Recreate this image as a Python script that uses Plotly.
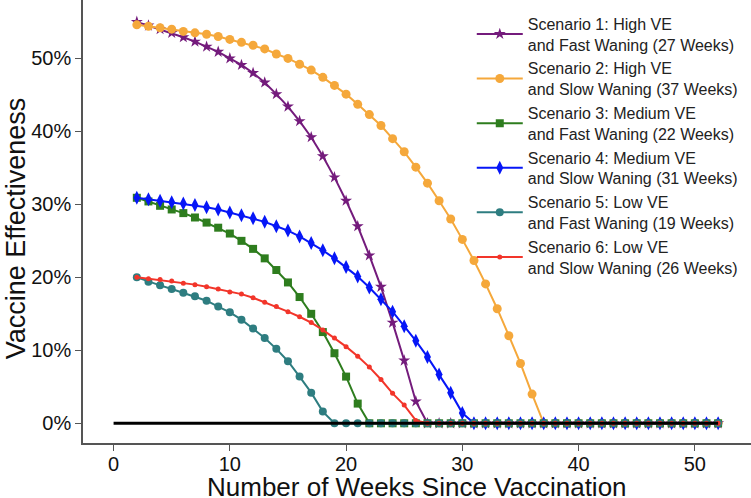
import plotly.graph_objects as go

weeks = list(range(2, 53))

s1 = [55.0, 54.5, 54.0, 53.5, 52.9, 52.3, 51.6, 50.9, 50.0, 49.1, 48.0, 46.7, 45.1, 43.4, 41.4,
      39.2, 36.6, 33.7, 30.5, 27.0, 23.0, 18.7, 13.8, 8.6, 3.0,
      0, 0, 0, 0, 0, 0, 0, 0, 0, 0, 0, 0, 0, 0, 0, 0, 0, 0, 0, 0, 0, 0, 0, 0, 0, 0]
s2 = [54.6, 54.4, 54.2, 54.0, 53.7, 53.5, 53.3, 53.0, 52.6, 52.2, 51.8, 51.3, 50.6, 50.0, 49.2,
      48.4, 47.4, 46.3, 45.1, 43.7, 42.3, 40.8, 39.0, 37.2, 35.1, 32.9, 30.5, 28.0, 25.2, 22.3,
      19.1, 15.7, 12.0, 8.2, 4.0,
      0, 0, 0, 0, 0, 0, 0, 0, 0, 0, 0, 0, 0, 0, 0, 0]
s3 = [30.9, 30.4, 29.8, 29.3, 28.8, 28.2, 27.5, 26.8, 26.0, 25.0, 23.9, 22.6, 21.0, 19.3, 17.3,
      15.0, 12.5, 9.6, 6.4, 2.7,
      0, 0, 0, 0, 0, 0, 0, 0, 0, 0, 0, 0, 0, 0, 0, 0, 0, 0, 0, 0, 0, 0, 0, 0, 0, 0, 0, 0, 0, 0, 0]
s4 = [30.9, 30.7, 30.5, 30.3, 30.1, 29.9, 29.6, 29.3, 28.9, 28.5, 28.1, 27.6, 27.0, 26.4, 25.6,
      24.7, 23.7, 22.6, 21.4, 20.1, 18.6, 17.0, 15.3, 13.3, 11.3, 9.1, 6.7, 4.2, 1.4,
      0, 0, 0, 0, 0, 0, 0, 0, 0, 0, 0, 0, 0, 0, 0, 0, 0, 0, 0, 0, 0, 0]
s5 = [20.0, 19.4, 18.9, 18.4, 17.9, 17.4, 16.8, 16.0, 15.2, 14.2, 13.0, 11.7, 10.2, 8.5, 6.4,
      4.2, 1.6,
      0, 0, 0, 0, 0, 0, 0, 0, 0, 0, 0, 0, 0, 0, 0, 0, 0, 0, 0, 0, 0, 0, 0, 0, 0, 0, 0, 0, 0, 0, 0, 0, 0, 0]
s6 = [20.0, 19.8, 19.7, 19.5, 19.2, 19.0, 18.7, 18.4, 18.0, 17.7, 17.2, 16.6, 16.0, 15.3, 14.6,
      13.8, 12.8, 11.7, 10.5, 9.2, 7.7, 6.0, 4.1, 2.5, 0.4,
      0, 0, 0, 0, 0, 0, 0, 0, 0, 0, 0, 0, 0, 0, 0, 0, 0, 0, 0, 0, 0, 0, 0, 0, 0, 0]

names = [
    "Scenario 1: High VE<br>and Fast Waning (27 Weeks)",
    "Scenario 2: High VE<br>and Slow Waning (37 Weeks)",
    "Scenario 3: Medium VE<br>and Fast Waning (22 Weeks)",
    "Scenario 4: Medium VE<br>and Slow Waning (31 Weeks)",
    "Scenario 5: Low VE<br>and Fast Waning (19 Weeks)",
    "Scenario 6: Low VE<br>and Slow Waning (26 Weeks)",
]
series = [s1, s2, s3, s4, s5, s6]
colors = ["#741b7c", "#f5a83b", "#2e7d1e", "#0616f7", "#2e7d80", "#f2352a"]
symbols = ["star", "circle", "square", "diamond-tall", "circle", "circle"]
sizes = [9, 9, 8, 10, 8, 5]

ref_x = [0, 52]
ref_y = [0, 0]

y_ticks = [0, 10, 20, 30, 40, 50]
y_tick_text = ["0%", "10%", "20%", "30%", "40%", "50%"]
x_ticks = [0, 10, 20, 30, 40, 50]

fig = go.Figure()
for nm, ys, c, sym, sz in zip(names, series, colors, symbols, sizes):
    fig.add_trace(go.Scatter(
        x=weeks, y=ys, name=nm, mode="lines+markers",
        line=dict(color=c, width=2),
        marker=dict(symbol=sym, size=sz, color=c, line=dict(width=0)),
    ))

fig.add_trace(go.Scatter(x=ref_x, y=ref_y, mode="lines", showlegend=False,
                         line=dict(color="black", width=3), hoverinfo="skip"))

font_main = "Liberation Sans, Arial, sans-serif"
fig.update_layout(
    width=751, height=498,
    margin=dict(l=83, r=0, t=0, b=55),
    paper_bgcolor="white", plot_bgcolor="white",
    font=dict(family=font_main, color="#111"),
    legend=dict(x=0.582, y=0.985, xanchor="left", yanchor="top",
                font=dict(size=16, color="#222", family=font_main),
                bgcolor="rgba(255,255,255,0)", tracegroupgap=0,
                itemwidth=46),
    showlegend=True,
    annotations=[
        dict(text="Number of Weeks Since Vaccination", xref="paper", yref="paper",
             x=0.5, y=-0.060, xanchor="center", yanchor="top", showarrow=False,
             font=dict(size=26, color="#111")),
        dict(text="Vaccine Effectiveness", xref="paper", yref="paper",
             x=-0.1, y=0.485, xanchor="center", yanchor="middle", showarrow=False,
             textangle=-90, font=dict(size=27, color="#111")),
    ],
)
fig.update_xaxes(
    range=[-2.63, 54.83], tickvals=x_ticks, ticks="outside", ticklen=6, tickwidth=1.2,
    tickcolor="#555", showline=True, linecolor="#555", linewidth=1.5, showgrid=False,
    zeroline=False, tickfont=dict(size=20, color="#111"), automargin=False,
    ticklabelstandoff=-4,
)
fig.update_yaxes(
    range=[-2.7, 58.0], tickvals=y_ticks, ticktext=y_tick_text, ticks="outside", ticklen=6,
    tickwidth=1.2, tickcolor="#555", showline=True, linecolor="#555", linewidth=1.5,
    showgrid=False, zeroline=False, tickfont=dict(size=20, color="#111"), automargin=False,
)

fig.write_html("out.html", config={"displayModeBar": False},
               post_script="document.body.style.margin='0px';document.body.style.overflow='hidden';")
